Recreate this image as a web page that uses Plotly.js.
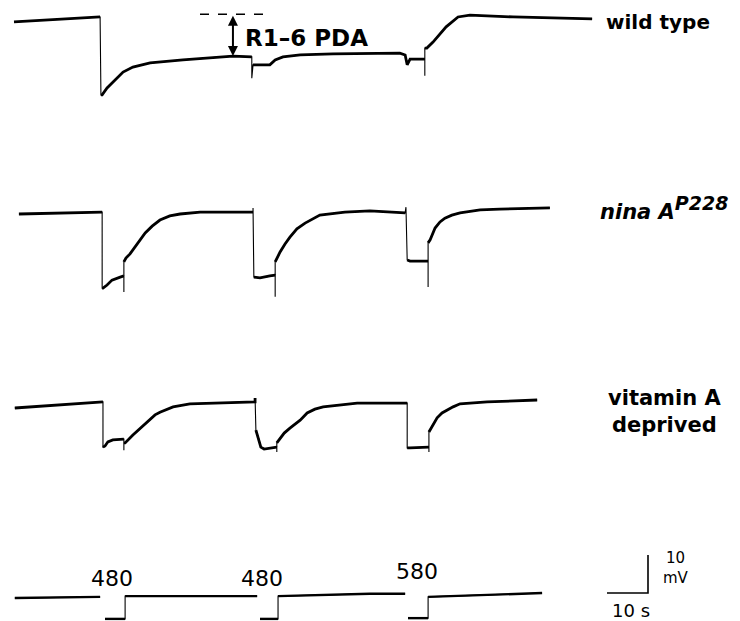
<!DOCTYPE html>
<html>
<head>
<meta charset="utf-8">
<script src="https://cdn.plot.ly/plotly-3.0.1.min.js"></script>
<style>html,body{margin:0;padding:0;background:#fff;}#chart{width:740px;height:621px;}</style>
</head>
<body>
<div id="chart"></div>
<script>
// ---- data: time (s) and potential (mV, relative to dark baseline) ----
const TIME_WT = [0, 21.0, 21.2, 21.5, 22.7, 24.6, 26.6, 29.0, 33.2, 41.2, 53.4, 58.0, 58.0, 58.3, 62.4, 63.7, 65.6, 69.8, 77.8, 94.1, 95.4, 95.9, 96.6, 100.2, 100.2, 100.2, 100.7, 102.2, 105.4, 108.3, 111.2, 121.7, 141.0];
const MV_WT   = [-0.5, 0.8, -19.7, -19.7, -17.9, -15.8, -13.7, -12.4, -11.3, -10.5, -9.5, -9.7, -15.3, -11.8, -11.8, -10.5, -9.7, -9.2, -8.9, -8.7, -9.2, -11.8, -10.3, -10.3, -14.7, -7.4, -7.4, -5.8, -1.8, 0.8, 1.3, 0.8, 0.3];

const TIME_NINA = [1.2, 21.0, 21.5, 21.5, 21.7, 22.7, 23.9, 25.9, 26.8, 26.8, 26.8, 27.3, 28.3, 30.0, 32.0, 33.7, 35.6, 38.0, 40.5, 45.4, 58.3, 58.3, 58.5, 60.0, 62.4, 63.7, 63.7, 63.7, 64.1, 64.9, 66.1, 67.3, 69.0, 71.0, 74.6, 80.7, 86.8, 95.4, 95.6, 95.9, 96.6, 101.0, 101.0, 101.0, 101.5, 102.7, 103.9, 105.1, 106.8, 108.8, 113.7, 118.5, 130.7];
const MV_NINA   = [0, 0.5, 0.5, -19.5, -19.5, -18.7, -17.4, -16.6, -16.3, -20.5, -12.6, -11.6, -10.5, -7.9, -5.0, -3.2, -1.6, -0.5, 0, 0.5, 0.5, 1.6, -16.6, -16.8, -16.3, -16.1, -21.8, -12.6, -11.6, -10.0, -7.9, -6.1, -3.9, -2.4, -0.3, 0.5, 0.8, 0.3, 1.8, -12.1, -12.4, -12.4, -19.2, -7.6, -6.8, -3.7, -2.1, -1.1, -0.3, 0.3, 1.1, 1.3, 1.6];

const TIME_VITA = [0.2, 11.2, 21.7, 21.7, 22.2, 22.9, 24.1, 26.8, 26.8, 26.8, 27.1, 29.0, 30.7, 32.4, 34.4, 35.6, 37.3, 38.8, 42.9, 50.2, 58.8, 58.8, 59.0, 59.8, 60.2, 61.0, 64.1, 64.1, 64.1, 64.9, 65.9, 67.3, 69.8, 71.5, 73.4, 75.4, 83.7, 95.9, 95.9, 96.6, 101.2, 101.2, 101.2, 102.0, 103.2, 104.4, 105.6, 107.1, 108.8, 115.4, 127.6];
const MV_VITA   = [0, 0.8, 1.6, -10.3, -10.0, -8.9, -8.4, -8.2, -11.1, -9.2, -9.2, -7.1, -5.5, -3.9, -1.8, -1.1, -0.3, 0.3, 1.1, 1.3, 1.6, 2.6, -5.8, -8.4, -10.3, -10.8, -10.3, -11.6, -9.2, -7.9, -6.6, -5.3, -3.2, -1.3, -0.3, 0.3, 1.3, 1.3, -10.5, -10.5, -10.3, -11.6, -6.3, -4.7, -2.6, -1.3, -0.5, 0.3, 1.1, 1.6, 2.1];

// light monitor (stimulus) trace; null = pen gap at light onset
const TIME_STIM = [0.2, 21.0, null, 22.2, 27.1, 27.1, 59.3, null, 60.0, 64.4, 64.4, 86.8, 95.4, null, 96.1, 101.0, 101.0, 128.8];
const SIG_STIM  = [0, 0.3, null, -5.5, -5.5, 0.5, 0.5, null, -5.5, -5.5, 0.5, 1.1, 1.1, null, -5.3, -5.3, 0.3, 1.3];

const STIM_LABELS = ['480', '480', '580'];
const ROW_LABELS = ['<b>wild type</b>', '<b><i>nina A</i></b><sup><span style="font-size:19px"><b><i>P228</i></b></span></sup>', '<b>vitamin A<br>deprived</b>'];
const PDA_TOP = 1.5, PDA_BOTTOM = -9.5, PDA_TIME = 53.4;
const SCALE_T = 10, SCALE_MV = 10;

// ---- layout geometry ----
const W = 740, H = 621;
const PX_PER_S = 4.1, PX_PER_MV = 3.8, X0 = 14;
const ROW_BASE_PX = [20, 214, 408, 598];

function yRange(basePx) {
  const r0 = (basePx - H) / PX_PER_MV;
  return [r0, r0 + H / PX_PER_MV];
}
function thick(t, v) {
  const tt = [], vv = [];
  for (let i = 0; i < t.length; i++) {
    tt.push(t[i]); vv.push(v[i]);
    if (i < t.length - 1 && t[i] !== null && t[i + 1] !== null) {
      if (Math.abs(t[i + 1] - t[i]) <= 0.35 && Math.abs(v[i + 1] - v[i]) > 1.0) {
        tt.push(null); vv.push(null);
      }
    }
  }
  return [tt, vv];
}

const records = [[TIME_WT, MV_WT, 'y'], [TIME_NINA, MV_NINA, 'y2'], [TIME_VITA, MV_VITA, 'y3'], [TIME_STIM, SIG_STIM, 'y4']];
const data = [];
records.forEach(([t, v, ax], k) => {
  data.push({x: t, y: v, yaxis: ax, type: 'scatter', mode: 'lines', line: {color: '#000', width: 1.1}, connectgaps: false, hoverinfo: 'skip'});
  const [tt, vv] = thick(t, v);
  data.push({x: tt, y: vv, yaxis: ax, type: 'scatter', mode: 'lines', line: {color: '#000', width: k === 3 ? 2.4 : 2.8, shape: 'linear'}, connectgaps: false, hoverinfo: 'skip'});
});
// scale bar (on stimulus axis)
const sbT = (607 - X0) / PX_PER_S, sbV = (ROW_BASE_PX[3] - 593) / PX_PER_MV;
data.push({x: [sbT, sbT + SCALE_T, sbT + SCALE_T], y: [sbV, sbV, sbV + SCALE_MV], yaxis: 'y4', type: 'scatter', mode: 'lines', line: {color: '#000', width: 1.6}, hoverinfo: 'skip'});

const font = 'DejaVu Sans, sans-serif';
function px(x, y) { return {x: x / W, y: 1 - y / H, xref: 'paper', yref: 'paper'}; }
const annotations = [];
annotations.push(Object.assign(px(604, 22), {text: ROW_LABELS[0], showarrow: false, xanchor: 'left', yanchor: 'middle', font: {family: font, size: 20, color: '#000'}}));
annotations.push(Object.assign(px(598, 208), {text: ROW_LABELS[1], showarrow: false, xanchor: 'left', yanchor: 'middle', font: {family: font, size: 21, color: '#000'}}));
annotations.push(Object.assign(px(664, 412), {text: ROW_LABELS[2], showarrow: false, xanchor: 'center', yanchor: 'middle', align: 'center', font: {family: font, size: 21, color: '#000'}}));
annotations.push(Object.assign(px(243, 38), {text: '<b>R1–6 PDA</b>', showarrow: false, xanchor: 'left', yanchor: 'middle', font: {family: font, size: 23, color: '#000'}}));
const labelPx = [[112, 578], [262, 578], [417, 571]];
STIM_LABELS.forEach((s, i) => {
  annotations.push(Object.assign(px(labelPx[i][0], labelPx[i][1]), {text: s, showarrow: false, xanchor: 'center', yanchor: 'middle', font: {family: font, size: 22, color: '#000'}}));
});
annotations.push(Object.assign(px(676, 568), {text: SCALE_MV + '<br>mV', showarrow: false, xanchor: 'center', yanchor: 'middle', align: 'center', font: {family: font, size: 15, color: '#000'}}));
annotations.push(Object.assign(px(631, 610), {text: SCALE_T + ' s', showarrow: false, xanchor: 'center', yanchor: 'middle', font: {family: font, size: 18, color: '#000'}}));
// PDA double arrow
annotations.push({x: PDA_TIME, y: PDA_BOTTOM, xref: 'x', yref: 'y', ax: PDA_TIME, ay: PDA_TOP, axref: 'x', ayref: 'y', text: '', showarrow: true, arrowside: 'end+start', arrowhead: 2, startarrowhead: 2, arrowsize: 1, startarrowsize: 1, arrowwidth: 2, arrowcolor: '#000'});

const shapes = [{type: 'line', xref: 'x', yref: 'y', x0: (200 - X0) / PX_PER_S, x1: (265 - X0) / PX_PER_S, y0: PDA_TOP, y1: PDA_TOP, line: {color: '#000', width: 1.5, dash: 'dash'}}];

const hidden = {visible: false, showgrid: false, zeroline: false, fixedrange: true};
const layout = {
  width: W, height: H, margin: {l: 0, r: 0, t: 0, b: 0, pad: 0},
  paper_bgcolor: '#fff', plot_bgcolor: '#fff', showlegend: false,
  xaxis: Object.assign({range: [-X0 / PX_PER_S, (W - X0) / PX_PER_S]}, hidden),
  yaxis: Object.assign({range: yRange(ROW_BASE_PX[0]), domain: [0, 1]}, hidden),
  yaxis2: Object.assign({range: yRange(ROW_BASE_PX[1]), overlaying: 'y'}, hidden),
  yaxis3: Object.assign({range: yRange(ROW_BASE_PX[2]), overlaying: 'y'}, hidden),
  yaxis4: Object.assign({range: yRange(ROW_BASE_PX[3]), overlaying: 'y'}, hidden),
  annotations: annotations, shapes: shapes
};
Plotly.newPlot('chart', data, layout, {staticPlot: true, displayModeBar: false});
</script>
</body>
</html>
